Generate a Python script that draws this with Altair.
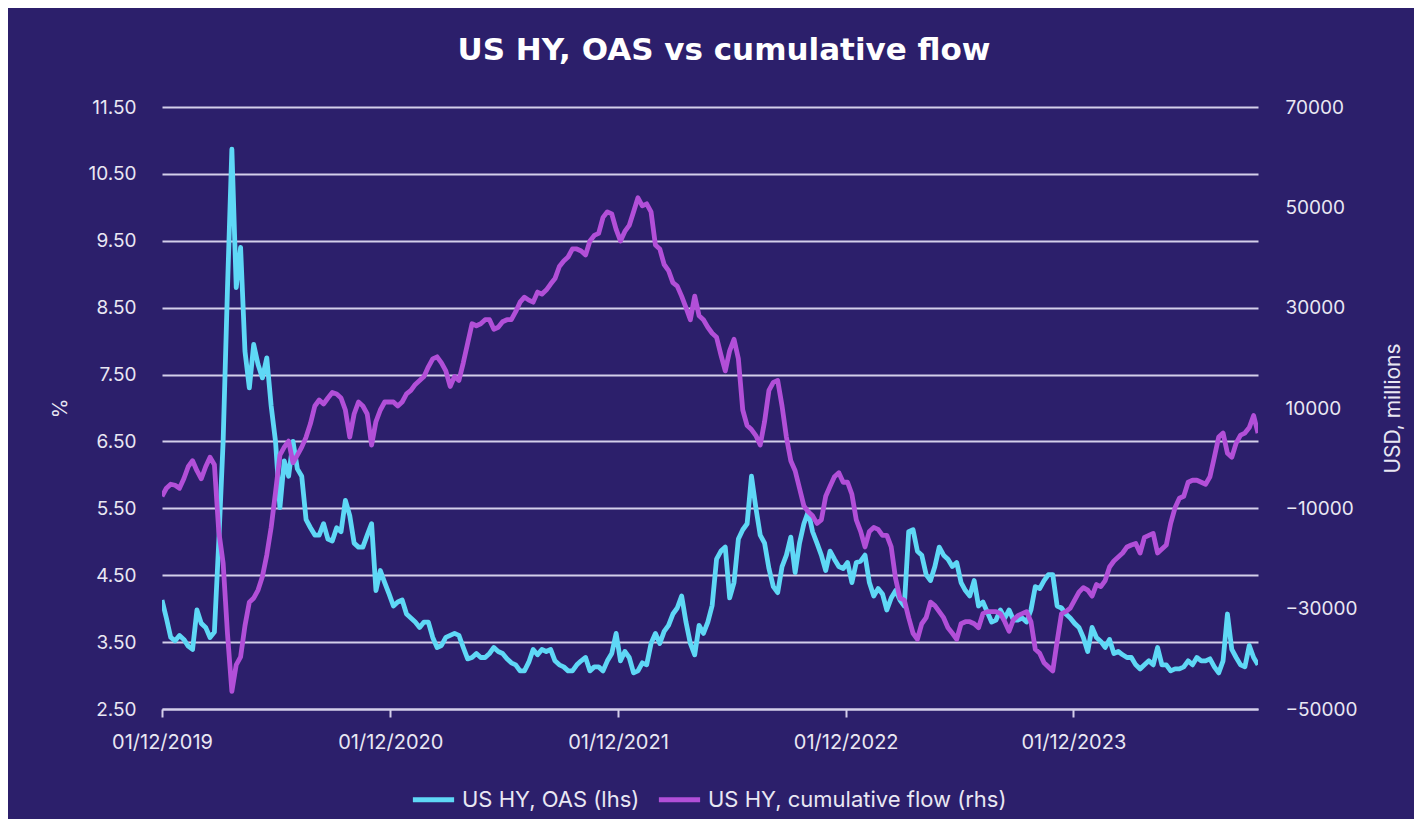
import altair as alt
import pandas as pd

# Weekly observations starting 01/12/2019
start_date = "2019-12-01"

oas = [
    4.13, 3.86, 3.57, 3.52, 3.60, 3.54, 3.44, 3.39, 3.98, 3.78,
    3.72, 3.57, 3.65, 5.00, 6.50, 8.80, 10.87, 8.80, 9.40, 7.85,
    7.30, 7.95, 7.65, 7.45, 7.75, 7.03, 6.50, 5.51, 6.21, 5.98,
    6.50, 6.09, 5.98, 5.33, 5.21, 5.10, 5.10, 5.27, 5.04, 5.01,
    5.21, 5.15, 5.62, 5.39, 4.98, 4.92, 4.92, 5.10, 5.27, 4.27,
    4.57, 4.39, 4.22, 4.04, 4.10, 4.13, 3.92, 3.86, 3.80, 3.72,
    3.80, 3.80, 3.57, 3.42, 3.45, 3.57, 3.60, 3.63, 3.60, 3.42,
    3.25, 3.27, 3.33, 3.27, 3.27, 3.33, 3.42, 3.36, 3.33, 3.25,
    3.19, 3.16, 3.07, 3.07, 3.20, 3.39, 3.31, 3.39, 3.36, 3.39,
    3.22, 3.16, 3.13, 3.07, 3.07, 3.16, 3.22, 3.27, 3.07, 3.13,
    3.13, 3.07, 3.22, 3.33, 3.63, 3.22, 3.36, 3.27, 3.04, 3.07,
    3.19, 3.16, 3.48, 3.63, 3.48, 3.66, 3.75, 3.92, 4.01, 4.19,
    3.80, 3.48, 3.31, 3.75, 3.63, 3.80, 4.05, 4.74, 4.86, 4.92,
    4.16, 4.39, 5.04, 5.18, 5.27, 5.98, 5.51, 5.10, 4.98, 4.60,
    4.33, 4.24, 4.63, 4.80, 5.07, 4.54, 4.98, 5.27, 5.45, 5.15,
    4.98, 4.80, 4.57, 4.86, 4.74, 4.63, 4.60, 4.69, 4.39, 4.69,
    4.71, 4.80, 4.39, 4.19, 4.30, 4.22, 3.98, 4.16, 4.27, 4.13,
    4.04, 5.15, 5.18, 4.86, 4.80, 4.51, 4.42, 4.63, 4.92, 4.80,
    4.74, 4.63, 4.69, 4.39, 4.27, 4.19, 4.42, 4.04, 4.10, 3.95,
    3.80, 3.83, 3.98, 3.86, 3.98, 3.83, 3.83, 3.86, 3.80, 3.98,
    4.33, 4.30, 4.42, 4.51, 4.51, 4.04, 4.01, 3.92, 3.86, 3.78,
    3.72, 3.57, 3.36, 3.72, 3.57, 3.51, 3.42, 3.54, 3.33, 3.36,
    3.31, 3.27, 3.27, 3.16, 3.10, 3.16, 3.22, 3.16, 3.42, 3.16,
    3.16, 3.07, 3.10, 3.10, 3.13, 3.22, 3.16, 3.27, 3.22, 3.22,
    3.25, 3.13, 3.04, 3.22, 3.92, 3.39, 3.27, 3.16, 3.13, 3.45,
    3.27, 3.16,
]

flow = [
    -7600, -6000, -5200, -5400, -6000, -4100, -1700, -500, -2500, -4100,
    -1700, 200, -1300, -14600, -20900, -35000, -46500, -41200, -39600, -33400,
    -28700, -27900, -26300, -23600, -19300, -13800, -6800, 600, 2200, 3400,
    -900, 600, 2200, 4200, 6900, 10400, 11600, 10800, 12000, 13100,
    12800, 12000, 9600, 4200, 8800, 11200, 10400, 8800, 2600, 7300,
    9600, 11200, 11200, 11200, 10400, 11200, 12800, 13500, 14700, 15500,
    16300, 18200, 19800, 20200, 19000, 17400, 14300, 16300, 15500, 19000,
    22900, 26800, 26400, 26800, 27600, 27600, 25700, 26100, 27200, 27600,
    27600, 29200, 31100, 32100, 31500, 31100, 33100, 32700, 33500, 34700,
    35800, 38200, 39300, 40100, 41700, 41700, 41300, 40500, 43300, 44400,
    44800, 48000, 49100, 48700, 45600, 43300, 45200, 46400, 49100, 51900,
    50300, 50700, 49100, 42500, 41700, 38600, 37400, 35000, 34300, 32300,
    30000, 27600, 32300, 28400, 27600, 26100, 24900, 24100, 20600, 17400,
    21400, 23700, 19800, 9600, 6500, 5700, 4500, 2600, 7300, 13500,
    15100, 15500, 10400, 4200, -500, -2500, -6000, -9500, -10700, -11500,
    -13000, -12300, -7600, -5600, -3700, -2900, -4800, -4800, -7200, -12300,
    -14600, -17700, -14600, -13800, -14200, -15400, -15400, -17700, -24000, -27900,
    -28300, -31800, -34900, -36100, -33000, -31800, -28700, -29400, -30600, -31800,
    -33800, -34900, -36100, -33000, -32600, -32600, -33000, -33800, -31000, -30600,
    -30600, -30600, -31000, -32600, -34500, -32200, -31400, -31000, -30600, -32600,
    -38100, -38900, -40800, -41600, -42400, -36500, -31000, -30600, -29900, -28300,
    -26700, -25800, -26300, -27500, -25200, -25600, -24400, -21700, -20500, -19700,
    -18900, -17700, -17300, -17000, -18900, -15800, -15400, -15000, -18900, -18100,
    -17300, -13000, -9900, -8000, -7600, -4800, -4400, -4400, -4800, -5200,
    -3700, 200, 4200, 5000, 1000, 200, 3000, 4600, 5000, 6100,
    8500, 5000,
]

series_names = ["US HY, OAS (lhs)", "US HY, cumulative flow (rhs)"]
series_colors = ["#5fd8f6", "#b24fd8"]
left_ticks = [2.5, 3.5, 4.5, 5.5, 6.5, 7.5, 8.5, 9.5, 10.5, 11.5]
right_ticks = [-50000, -30000, -10000, 10000, 30000, 50000, 70000]
x_tick_years = [2019, 2020, 2021, 2022, 2023]

dates = pd.date_range(start_date, periods=len(oas), freq="7D")
df = pd.DataFrame({"date": dates.strftime("%Y-%m-%d"), "oas": oas, "flow": flow})

FONT = "Inter"
TXT = "#e9e7f3"
GRID = "#d4cfea"
LW = 4.8

x_enc = alt.X(
    "date:T",
    scale=alt.Scale(
        type="utc",
        domain=[alt.DateTime(year=2019, month=12, date=1, utc=True),
                alt.DateTime(year=2024, month=9, date=22, utc=True)],
    ),
    axis=alt.Axis(
        title=None,
        values=[alt.DateTime(year=y, month=12, date=1, utc=True) for y in x_tick_years],
        labelExpr="utcFormat(datum.value, '%d/%m/%Y')",
        labelFlush=False,
        labelOverlap=False,
        grid=False,
        domain=True,
        domainColor=GRID,
        domainWidth=2,
        ticks=True,
        tickColor=GRID,
        tickWidth=2,
        tickSize=8,
        labelPadding=15,
        labelFontSize=20,
        labelColor=TXT,
        labelFont=FONT,
    ),
)

color_scale = alt.Scale(domain=series_names, range=series_colors)

base = alt.Chart(df)

oas_line = base.mark_line(strokeWidth=LW, strokeJoin="round", clip=True).encode(
    x=x_enc,
    y=alt.Y(
        "oas:Q",
        scale=alt.Scale(domain=[2.5, 11.5], nice=False, zero=False),
        axis=alt.Axis(
            title="%",
            values=left_ticks,
            format=".2f",
            grid=True,
            gridColor=GRID,
            gridWidth=2,
            domain=False,
            ticks=False,
            labelPadding=26,
            labelFontSize=19,
            labelColor=TXT,
            labelFont=FONT,
            titleFontSize=20,
            titleFontWeight="normal",
            titleColor=TXT,
            titleFont=FONT,
            titleAngle=270,
            titleX=-102,
            titleY=301,
            titleAlign="center",
            titleBaseline="middle",
        ),
    ),
    color=alt.Color(
        "s:N",
        scale=color_scale,
        legend=alt.Legend(
            title=None,
            orient="none",
            direction="horizontal",
            legendX=248,
            legendY=669,
            symbolType="stroke",
            symbolStrokeWidth=5,
            symbolSize=1700,
            labelFontSize=22,
            labelColor=TXT,
            labelFont=FONT,
            labelLimit=0,
            columnPadding=8,
            labelOffset=5,
        ),
    ),
).transform_calculate(s=f"'{series_names[0]}'")

flow_line = base.mark_line(strokeWidth=LW, strokeJoin="round", clip=True).encode(
    x=x_enc,
    y=alt.Y(
        "flow:Q",
        scale=alt.Scale(domain=[-50000, 70000], nice=False, zero=False),
        axis=alt.Axis(
            title="USD, millions",
            orient="right",
            values=right_ticks,
            format="d",
            grid=False,
            domain=False,
            ticks=False,
            labelPadding=27,
            labelFontSize=19,
            labelColor=TXT,
            labelFont=FONT,
            titleFontSize=21,
            titleFontWeight="normal",
            titleColor=TXT,
            titleFont=FONT,
            titleAngle=270,
            titleX=135,
            titleY=301,
            titleAlign="center",
            titleBaseline="middle",
        ),
    ),
    color=alt.Color("s:N", scale=color_scale),
).transform_calculate(s=f"'{series_names[1]}'")

chart = (
    alt.layer(oas_line, flow_line)
    .resolve_scale(y="independent")
    .properties(
        width=1096,
        height=602,
        background="#2c1f6b",
        padding={"left": 154, "top": 99, "right": 156, "bottom": 110},
        autosize=alt.AutoSizeParams(type="none"),
        title=alt.TitleParams(
            text="US HY, OAS vs cumulative flow",
            fontSize=31,
            fontWeight="bold",
            color="#ffffff",
            font="DejaVu Sans",
            anchor="middle",
            offset=31,
            dx=14,
        ),
    )
    .configure_view(stroke=None)
)

chart.save("out.html", embed_options={"renderer": "svg", "actions": False})
